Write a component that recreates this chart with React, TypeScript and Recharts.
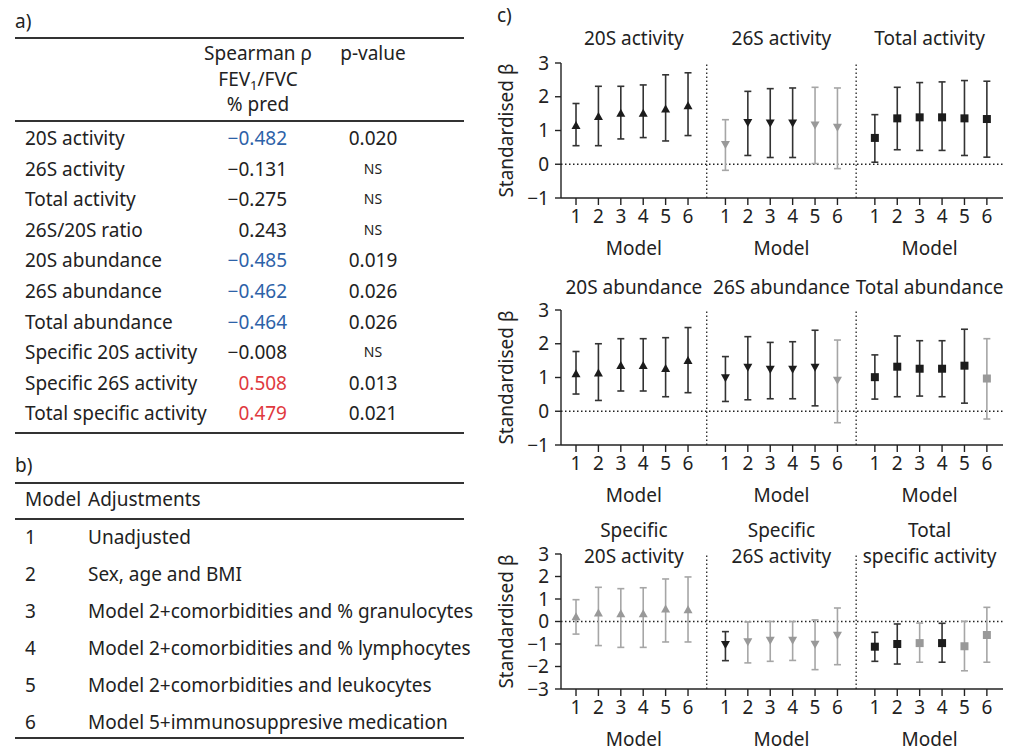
import React from 'react';
import { ComposedChart, Scatter, ErrorBar, XAxis, YAxis, ReferenceLine } from 'recharts';

// [beta, lower 95% CI, upper 95% CI, significant (1) or not (0)]
type Est = [number, number, number, number];

const models = [1, 2, 3, 4, 5, 6];

const activity20S: Est[] = [
  [1.13, 0.55, 1.80, 1], [1.40, 0.55, 2.31, 1], [1.50, 0.75, 2.31, 1],
  [1.50, 0.79, 2.35, 1], [1.62, 0.69, 2.65, 1], [1.72, 0.85, 2.71, 1],
];
const activity26S: Est[] = [
  [0.60, -0.18, 1.32, 0], [1.25, 0.26, 2.16, 1], [1.24, 0.20, 2.24, 1],
  [1.24, 0.20, 2.26, 1], [1.18, 0.02, 2.28, 0], [1.11, -0.13, 2.26, 0],
];
const activityTotal: Est[] = [
  [0.78, 0.06, 1.47, 1], [1.36, 0.43, 2.28, 1], [1.39, 0.41, 2.42, 1],
  [1.39, 0.41, 2.44, 1], [1.36, 0.26, 2.48, 1], [1.34, 0.21, 2.46, 1],
];
const abundance20S: Est[] = [
  [1.10, 0.51, 1.77, 1], [1.12, 0.32, 2.00, 1], [1.34, 0.60, 2.15, 1],
  [1.34, 0.60, 2.15, 1], [1.25, 0.43, 2.18, 1], [1.49, 0.55, 2.48, 1],
];
const abundance26S: Est[] = [
  [1.01, 0.29, 1.62, 1], [1.32, 0.34, 2.21, 1], [1.26, 0.37, 2.04, 1],
  [1.26, 0.37, 2.06, 1], [1.32, 0.16, 2.40, 1], [0.93, -0.34, 2.11, 0],
];
const abundanceTotal: Est[] = [
  [1.01, 0.36, 1.67, 1], [1.32, 0.43, 2.23, 1], [1.26, 0.45, 2.09, 1],
  [1.26, 0.43, 2.09, 1], [1.35, 0.24, 2.43, 1], [0.97, -0.23, 2.15, 0],
];
const specific20S: Est[] = [
  [0.19, -0.56, 0.97, 0], [0.36, -1.07, 1.52, 0], [0.32, -1.15, 1.46, 0],
  [0.32, -1.15, 1.50, 0], [0.53, -0.91, 1.89, 0], [0.50, -0.91, 1.98, 0],
];
const specific26S: Est[] = [
  [-1.00, -1.74, -0.45, 1], [-0.88, -1.84, -0.02, 0], [-0.81, -1.77, 0.00, 0],
  [-0.81, -1.73, 0.00, 0], [-0.99, -2.14, 0.07, 0], [-0.59, -1.92, 0.60, 0],
];
const specificTotal: Est[] = [
  [-1.12, -1.77, -0.48, 1], [-1.00, -1.89, -0.11, 1], [-0.96, -1.81, -0.07, 0],
  [-0.96, -1.81, -0.08, 1], [-1.10, -2.19, 0.01, 0], [-0.60, -1.81, 0.63, 0],
];

// table a
const corrNames = [
  '20S activity', '26S activity', 'Total activity', '26S/20S ratio', '20S abundance',
  '26S abundance', 'Total abundance', 'Specific 20S activity', 'Specific 26S activity',
  'Total specific activity',
];
const corrRho = [-0.482, -0.131, -0.275, 0.243, -0.485, -0.462, -0.464, -0.008, 0.508, 0.479];
const corrP = ['0.020', 'NS', 'NS', 'NS', '0.019', '0.026', '0.026', 'NS', '0.013', '0.021'];

// table b
const modelAdjust = [
  'Unadjusted',
  'Sex, age and BMI',
  'Model 2+comorbidities and % granulocytes',
  'Model 2+comorbidities and % lymphocytes',
  'Model 2+comorbidities and leukocytes',
  'Model 5+immunosuppresive medication',
];

const FONT = '"Noto Sans", "Open Sans", sans-serif';
const FS = 19;
const INK = '#222';
const BLACK = '#1c1c1c';
const BLACK_BAR = '#333';
const GREY = '#999';
const GREY_BAR = '#a6a6a6';
const BLUE = '#2d62a8';
const RED = '#e0393e';

const PANEL_GAP = 6.67;
const X_SHIFT = -0.33;
const X_MAX = 19.73;

type Shape = 'up' | 'down' | 'square';
interface Panel { title: string[]; data: Est[]; shape: Shape }
interface RowCfg { plotTop: number; domain: [number, number]; ticks: number[]; titleY: number[]; panels: Panel[] }

const rows: RowCfg[] = [
  {
    plotTop: 63, domain: [-1, 3], ticks: [-1, 0, 1, 2, 3], titleY: [38],
    panels: [
      { title: ['20S activity'], data: activity20S, shape: 'up' },
      { title: ['26S activity'], data: activity26S, shape: 'down' },
      { title: ['Total activity'], data: activityTotal, shape: 'square' },
    ],
  },
  {
    plotTop: 310, domain: [-1, 3], ticks: [-1, 0, 1, 2, 3], titleY: [287],
    panels: [
      { title: ['20S abundance'], data: abundance20S, shape: 'up' },
      { title: ['26S abundance'], data: abundance26S, shape: 'down' },
      { title: ['Total abundance'], data: abundanceTotal, shape: 'square' },
    ],
  },
  {
    plotTop: 554, domain: [-3, 3], ticks: [-3, -2, -1, 0, 1, 2, 3], titleY: [530, 556],
    panels: [
      { title: ['Specific', '20S activity'], data: specific20S, shape: 'up' },
      { title: ['Specific', '26S activity'], data: specific26S, shape: 'down' },
      { title: ['Total', 'specific activity'], data: specificTotal, shape: 'square' },
    ],
  },
];

const CHART_LEFT = 490;
const CHART_W = 525;
const AXIS_W = 71;
const PLOT_H = 135;
const TOP_PAD = 13;
const PX_PER_X = (CHART_W - AXIS_W - 12) / X_MAX;

const minus = (v: number) => (v < 0 ? '\u2212' + Math.abs(v) : String(v));

const Txt: React.FC<{ x: number; y: number; align?: 'left' | 'center' | 'right'; size?: number; color?: string; children: React.ReactNode }> = ({ x, y, align = 'left', size = FS, color = INK, children }) => {
  const tx = align === 'center' ? '-50%' : align === 'right' ? '-100%' : '0';
  return (
    <div style={{ position: 'absolute', left: x, top: y, transform: `translate(${tx}, -50%)`, fontSize: size, lineHeight: 1, whiteSpace: 'nowrap', color }}>
      {children}
    </div>
  );
};

const Rule: React.FC<{ y: number }> = ({ y }) => (
  <div style={{ position: 'absolute', left: 15, top: y, width: 449, height: 1.5, background: '#333' }} />
);

const Marker = (props: any) => {
  const { cx, cy, fill, payload } = props;
  if (cx == null || cy == null) return null;
  if (payload.shape === 'square') {
    return <rect x={cx - 4} y={cy - 4} width={8} height={8} fill={fill} />;
  }
  const pts = payload.shape === 'up'
    ? `${cx},${cy - 5} ${cx + 4.5},${cy + 3} ${cx - 4.5},${cy + 3}`
    : `${cx - 4.5},${cy - 3} ${cx + 4.5},${cy - 3} ${cx},${cy + 5}`;
  return <polygon points={pts} fill={fill} />;
};

const RowChart: React.FC<{ row: RowCfg }> = ({ row }) => {
  const points = row.panels.flatMap((p, pi) =>
    p.data.map((e, mi) => ({
      x: pi * PANEL_GAP + models[mi] + X_SHIFT,
      y: e[0],
      err: [e[0] - e[1], e[2] - e[0]],
      sig: e[3],
      shape: p.shape,
    })),
  );
  const xTicks = row.panels.flatMap((_, pi) => models.map((m) => pi * PANEL_GAP + m + X_SHIFT));
  // dotted separators sit halfway between model 6 of one panel and model 1 of the next
  const seps = [1, 2].map((pi) => pi * PANEL_GAP + X_SHIFT + 1 - (PANEL_GAP - 5) / 2);
  const plotBottom = row.plotTop + PLOT_H;
  const plotLeft = CHART_LEFT + AXIS_W;
  const panelCenter = (pi: number) => {
    const a = pi === 0 ? 0 : seps[pi - 1];
    const b = pi === 2 ? X_MAX : seps[pi];
    return plotLeft + ((a + b) / 2) * PX_PER_X;
  };

  return (
    <>
      {row.panels.map((p, pi) =>
        p.title.map((line, li) => (
          <Txt key={`t${pi}-${li}`} x={panelCenter(pi)} y={row.titleY[li]} align="center">{line}</Txt>
        )),
      )}
      {row.panels.map((p, pi) => (
        <Txt key={`m${pi}`} x={panelCenter(pi)} y={plotBottom + 50} align="center">Model</Txt>
      ))}
      <div style={{ position: 'absolute', left: CHART_LEFT, top: row.plotTop - TOP_PAD }}>
        <ComposedChart
          width={CHART_W}
          height={PLOT_H + TOP_PAD + 34}
          data={points}
          margin={{ top: TOP_PAD, right: 12, bottom: 0, left: 0 }}
          style={{ fontFamily: FONT }}
        >
          <XAxis
            type="number"
            dataKey="x"
            domain={[0, X_MAX]}
            ticks={xTicks}
            interval={0}
            tickFormatter={(_v: number, i: number) => String(models[i % models.length])}
            tick={{ fill: INK, fontSize: FS }}
            tickSize={7}
            tickMargin={5}
            height={34}
            axisLine={{ stroke: INK, strokeWidth: 1.4 }}
            tickLine={{ stroke: INK, strokeWidth: 1.4 }}
          />
          <YAxis
            type="number"
            dataKey="y"
            domain={row.domain}
            ticks={row.ticks}
            interval={0}
            allowDataOverflow
            tickFormatter={minus}
            tick={{ fill: INK, fontSize: FS }}
            tickSize={6}
            tickMargin={6}
            width={AXIS_W}
            axisLine={{ stroke: INK, strokeWidth: 1.4 }}
            tickLine={{ stroke: INK, strokeWidth: 1.4 }}
            label={{ value: 'Standardised β', angle: -90, position: 'insideLeft', offset: 16, style: { textAnchor: 'middle', fill: INK, fontSize: FS } }}
          />
          <ReferenceLine y={0} stroke={INK} strokeWidth={1.3} strokeDasharray="1.5 2.5" />
          {seps.map((s) => (
            <ReferenceLine key={s} x={s} stroke={INK} strokeWidth={1.3} strokeDasharray="1.5 2.5" />
          ))}
          <Scatter data={points.filter((d) => !d.sig)} fill={GREY} shape={Marker} isAnimationActive={false}>
            <ErrorBar dataKey="err" direction="y" width={3.5} stroke={GREY_BAR} strokeWidth={1.6} isAnimationActive={false} />
          </Scatter>
          <Scatter data={points.filter((d) => d.sig)} fill={BLACK} shape={Marker} isAnimationActive={false}>
            <ErrorBar dataKey="err" direction="y" width={3.5} stroke={BLACK_BAR} strokeWidth={1.6} isAnimationActive={false} />
          </Scatter>
        </ComposedChart>
      </div>
    </>
  );
};

export default function App() {
  const rowY = (i: number) => 138 + i * 30.6;
  const modelY = (i: number) => 537 + i * 37;
  return (
    <div style={{ position: 'absolute', left: 0, top: 0, width: 1019, height: 750, background: '#fff', fontFamily: FONT, color: INK, overflow: 'hidden' }}>
      {/* a) */}
      <Txt x={15} y={21}>a)</Txt>
      <Rule y={37} />
      <Txt x={258} y={53} align="center">Spearman ρ</Txt>
      <Txt x={258} y={79} align="center">
        FEV<sub style={{ fontSize: 13, verticalAlign: -4, lineHeight: 0 }}>1</sub>/FVC
      </Txt>
      <Txt x={258} y={104} align="center">% pred</Txt>
      <Txt x={373} y={53} align="center">p-value</Txt>
      <Rule y={120} />
      {corrNames.map((n, i) => {
        const sig = corrP[i] !== 'NS';
        const col = sig ? (corrRho[i] < 0 ? BLUE : RED) : INK;
        const rho = (corrRho[i] < 0 ? '\u2212' : '') + Math.abs(corrRho[i]).toFixed(3);
        return (
          <React.Fragment key={n}>
            <Txt x={25} y={rowY(i)}>{n}</Txt>
            <Txt x={287} y={rowY(i)} align="right" color={col}>{rho}</Txt>
            <Txt x={373} y={rowY(i)} align="center" size={sig ? FS : 14}>{corrP[i]}</Txt>
          </React.Fragment>
        );
      })}
      <Rule y={432} />

      {/* b) */}
      <Txt x={15} y={465}>b)</Txt>
      <Rule y={482} />
      <Txt x={25} y={499}>Model</Txt>
      <Txt x={88} y={499}>Adjustments</Txt>
      <Rule y={518} />
      {modelAdjust.map((a, i) => (
        <React.Fragment key={a}>
          <Txt x={25} y={modelY(i)}>{models[i]}</Txt>
          <Txt x={88} y={modelY(i)}>{a}</Txt>
        </React.Fragment>
      ))}
      <Rule y={737} />

      {/* c) */}
      <Txt x={497} y={15}>c)</Txt>
      {rows.map((r, i) => (
        <RowChart key={i} row={r} />
      ))}
    </div>
  );
}
